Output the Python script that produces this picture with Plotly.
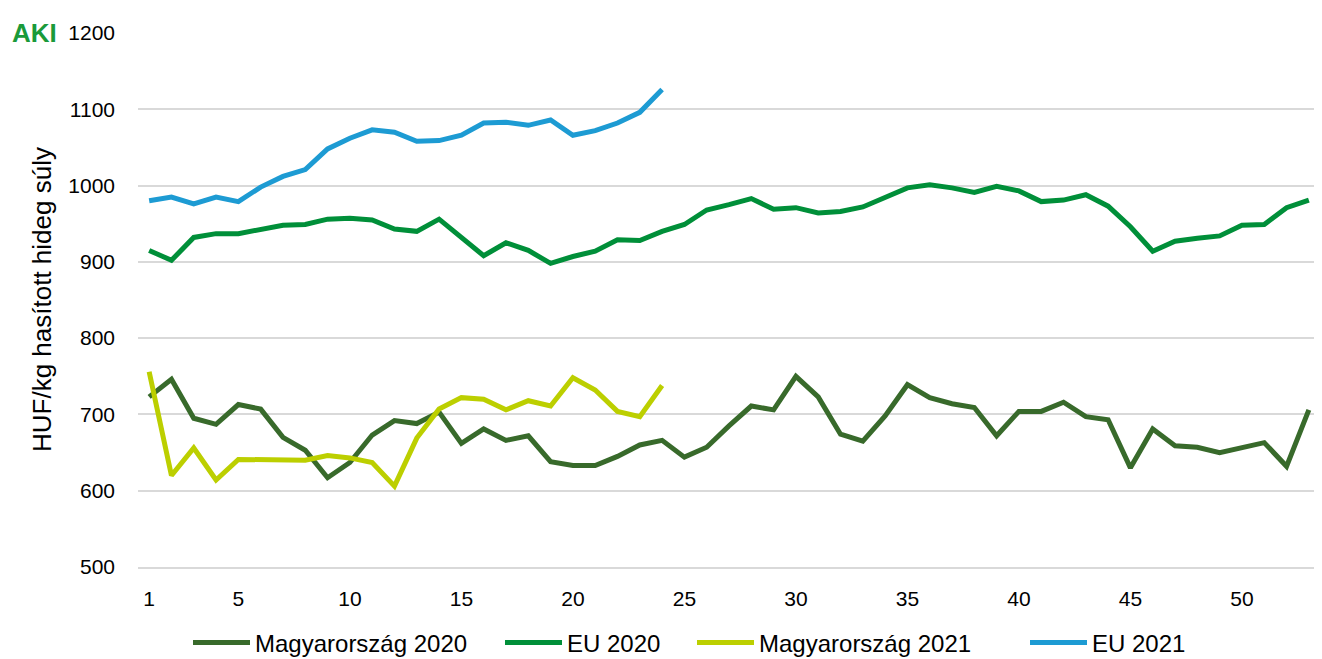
import plotly.graph_objects as go

weeks_2020 = list(range(1, 54))
weeks_2021 = list(range(1, 25))

hu_2020 = [723, 746, 695, 687, 713, 707, 670, 653, 617, 637,
           673, 692, 688, 703, 662, 681, 666, 672, 638, 633,
           633, 645, 660, 666, 644, 657, 685, 711, 706, 750,
           723, 674, 665, 698, 739, 722, 714, 709, 672, 704,
           704, 716, 697, 693, 630, 681, 659, 657, 650, 657,
           663, 632, 706]

eu_2020 = [915, 902, 932, 937, 937, 942, 948, 949, 956, 957,
           955, 943, 940, 956, 932, 908, 925, 915, 898, 907,
           914, 929, 928, 940, 949, 968, 975, 983, 969, 971,
           964, 966, 972, 985, 997, 1001, 997, 991, 999, 993,
           979, 981, 988, 973, 946, 914, 927, 931, 934, 948,
           949, 971, 981]

hu_2021 = [756, 620, 656, 614, 641, 641, 640, 640, 646, 643,
           637, 606, 669, 707, 722, 720, 706, 718, 711, 748,
           732, 704, 697, 738]

eu_2021 = [980, 985, 976, 985, 979, 998, 1012, 1021, 1048, 1062,
           1073, 1070, 1058, 1059, 1066, 1082, 1083, 1079, 1086, 1066,
           1072, 1082, 1096, 1126]

x_ticks = [1, 5, 10, 15, 20, 25, 30, 35, 40, 45, 50]
y_ticks = [500, 600, 700, 800, 900, 1000, 1100, 1200]
y_title = "HUF/kg hasított hideg súly"

series = [
    ("Magyarország 2020", weeks_2020, hu_2020, "#386a2b"),
    ("EU 2020", weeks_2020, eu_2020, "#008f39"),
    ("Magyarország 2021", weeks_2021, hu_2021, "#bccf00"),
    ("EU 2021", weeks_2021, eu_2021, "#1d9bd3"),
]

W, H = 1314, 651
ML, MR, MT, MB = 130, 2, 25, 92
legend_names = ["legend", "legend2", "legend3", "legend4"]
legend_left = [180, 492, 684, 1017]

fig = go.Figure()
for (name, xs, ys, col), lg in zip(series, legend_names):
    fig.add_trace(go.Scatter(x=xs, y=ys, name=name, mode="lines", legend=lg,
                             line=dict(color=col, width=5)))

font_family = "Liberation Sans, Arial, sans-serif"
layout_legends = {}
for lg, lx in zip(legend_names, legend_left):
    layout_legends[lg] = dict(xref="container", yref="container",
                              x=lx / W, xanchor="left",
                              y=(H - 635) / H, yanchor="middle",
                              font=dict(size=24), itemwidth=57,
                              bgcolor="rgba(0,0,0,0)")

fig.update_layout(
    width=W, height=H,
    margin=dict(l=ML, r=MR, t=MT, b=MB, autoexpand=False),
    plot_bgcolor="white", paper_bgcolor="white",
    font=dict(family=font_family, size=21, color="#000000"),
    showlegend=True,
    xaxis=dict(range=[0.5, 53.5], tickvals=x_ticks, showgrid=False, zeroline=False,
               showline=True, linecolor="#d9d9d9", linewidth=1.5,
               ticks="", ticklabelstandoff=12,
               tickfont=dict(size=21), automargin=False),
    yaxis=dict(range=[500, 1200], tickvals=y_ticks, showgrid=True, gridcolor="#d9d9d9",
               gridwidth=1.5, zeroline=False, showline=False, ticks="",
               ticklabelstandoff=22, tickfont=dict(size=21), automargin=False),
    **layout_legends,
)

plot_w = W - ML - MR
fig.add_annotation(text=y_title, xref="paper", yref="paper",
                   x=(34 - ML) / plot_w, y=0.5, xanchor="center", yanchor="middle",
                   textangle=-90, showarrow=False,
                   font=dict(size=26, color="#000000", family=font_family))

fig.add_annotation(text="<b>AKI</b>", xref="paper", yref="paper",
                   x=-0.108, y=1.0, xanchor="left", yanchor="middle", showarrow=False,
                   font=dict(size=26, color="#1a9a3a", family=font_family))

fig.write_html("out.html")
